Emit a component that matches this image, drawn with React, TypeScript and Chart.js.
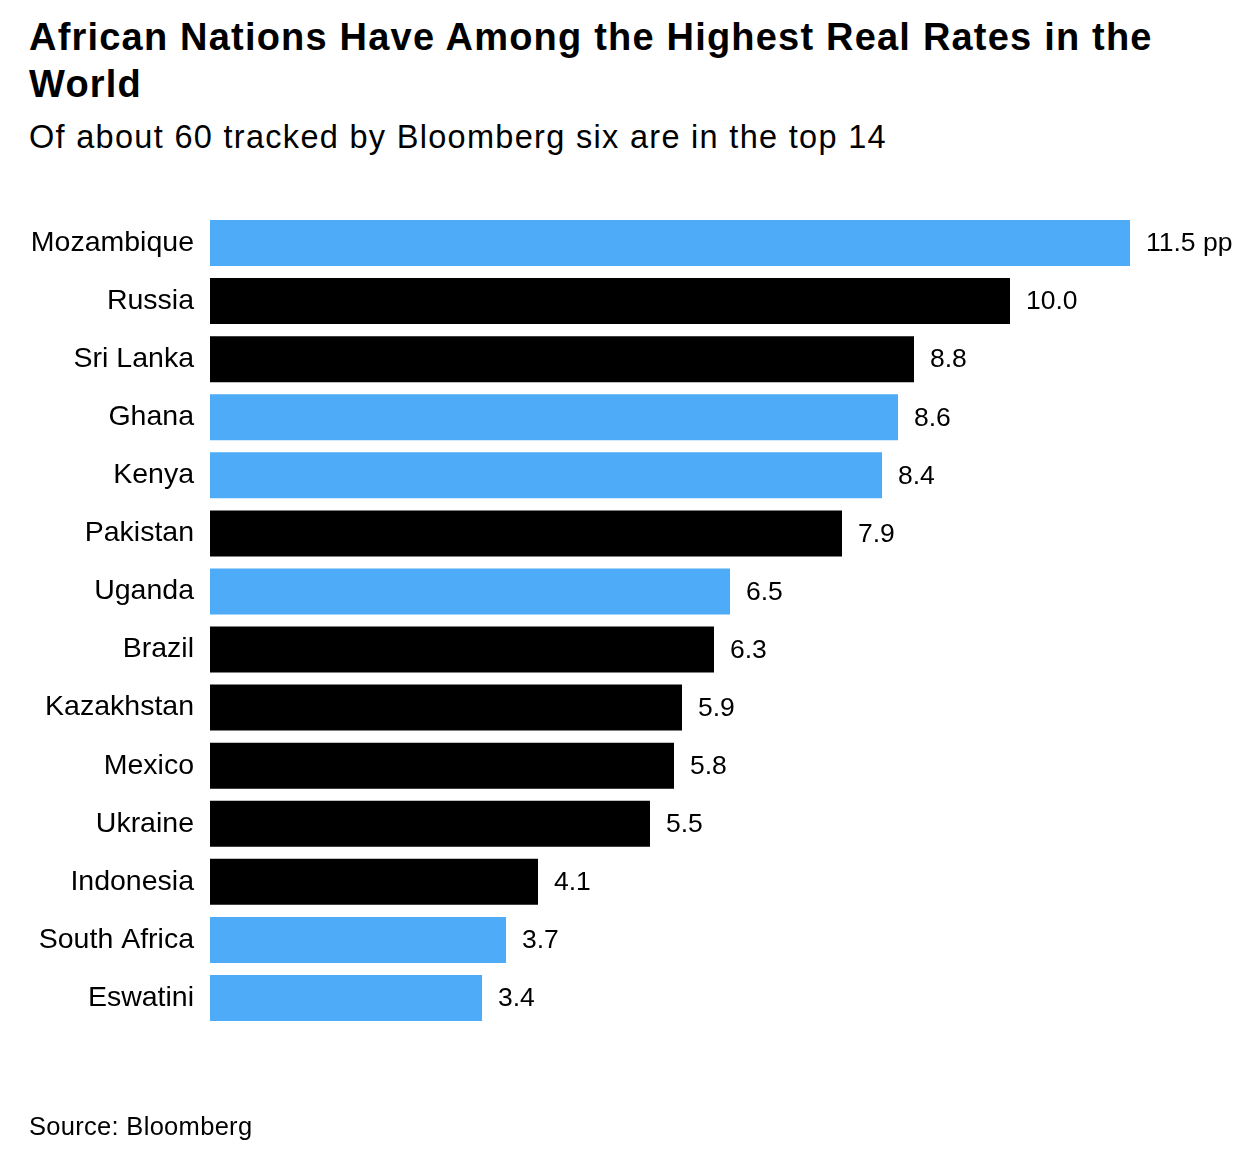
import React, { useEffect, useRef } from "react";
import { Chart, registerables } from "chart.js";

Chart.register(...registerables);

const countries = [
  "Mozambique", "Russia", "Sri Lanka", "Ghana", "Kenya", "Pakistan", "Uganda",
  "Brazil", "Kazakhstan", "Mexico", "Ukraine", "Indonesia", "South Africa", "Eswatini",
];
const realRates = [11.5, 10.0, 8.8, 8.6, 8.4, 7.9, 6.5, 6.3, 5.9, 5.8, 5.5, 4.1, 3.7, 3.4];
const isAfrican = [true, false, false, true, true, false, true, false, false, false, false, false, true, true];
const valueLabels = ["11.5 pp", "10.0", "8.8", "8.6", "8.4", "7.9", "6.5", "6.3", "5.9", "5.8", "5.5", "4.1", "3.7", "3.4"];

const BLUE = "#4dabf7";
const BLACK = "#000000";
const FONT = "'Liberation Sans', Arial, Helvetica, sans-serif";

const valueLabelPlugin = {
  id: "valueLabels",
  afterDatasetsDraw(chart: any) {
    const ctx = chart.ctx;
    const meta = chart.getDatasetMeta(0);
    ctx.save();
    ctx.fillStyle = "#000";
    ctx.font = `26.5px ${FONT}`;
    ctx.textAlign = "left";
    ctx.textBaseline = "middle";
    meta.data.forEach((bar: any, i: number) => {
      ctx.fillText(valueLabels[i], bar.x + 16, bar.y + 1);
    });
    ctx.restore();
  },
};

export default function App() {
  const canvasRef = useRef<HTMLCanvasElement | null>(null);

  useEffect(() => {
    document.body.style.margin = "0";
    const canvas = canvasRef.current;
    if (!canvas) return;
    const chart = new Chart(canvas, {
      type: "bar",
      data: {
        labels: countries,
        datasets: [
          {
            data: realRates,
            backgroundColor: isAfrican.map((a) => (a ? BLUE : BLACK)),
            borderWidth: 0,
            categoryPercentage: 1,
            barPercentage: 0.792,
          },
        ],
      },
      options: {
        indexAxis: "y",
        animation: false,
        responsive: false,
        maintainAspectRatio: false,
        layout: { padding: { top: 214, bottom: 131, left: 0, right: 0 } },
        plugins: {
          legend: { display: false },
          tooltip: { enabled: false },
          title: { display: false },
        },
        scales: {
          x: { display: false, min: 0, max: 13 },
          y: {
            grid: { display: false, drawTicks: false },
            border: { display: false },
            ticks: {
              color: "#000",
              padding: 16,
              font: { family: FONT, size: 28.5 },
            },
            afterFit(scale: any) {
              scale.width = 210;
            },
          },
        },
      },
      plugins: [valueLabelPlugin],
    });
    return () => chart.destroy();
  }, []);

  return (
    <div style={{ position: "relative", width: 1250, height: 1158, background: "#fff", fontFamily: FONT, color: "#000" }}>
      <div style={{ position: "absolute", left: 29, top: 14, fontWeight: 700, fontSize: 38, lineHeight: "47px", letterSpacing: "1.2px", whiteSpace: "nowrap" }}>
        African Nations Have Among the Highest Real Rates in the
        <br />
        World
      </div>
      <div style={{ position: "absolute", left: 29, top: 117, fontSize: 32.5, lineHeight: "40px", letterSpacing: "1.3px", whiteSpace: "nowrap" }}>
        Of about 60 tracked by Bloomberg six are in the top 14
      </div>
      <canvas ref={canvasRef} width={1250} height={1158} style={{ position: "absolute", left: 0, top: 0 }} />
      <div style={{ position: "absolute", left: 29, top: 1110, fontSize: 25.5, lineHeight: "32px", letterSpacing: "0.3px", whiteSpace: "nowrap" }}>
        Source: Bloomberg
      </div>
    </div>
  );
}
